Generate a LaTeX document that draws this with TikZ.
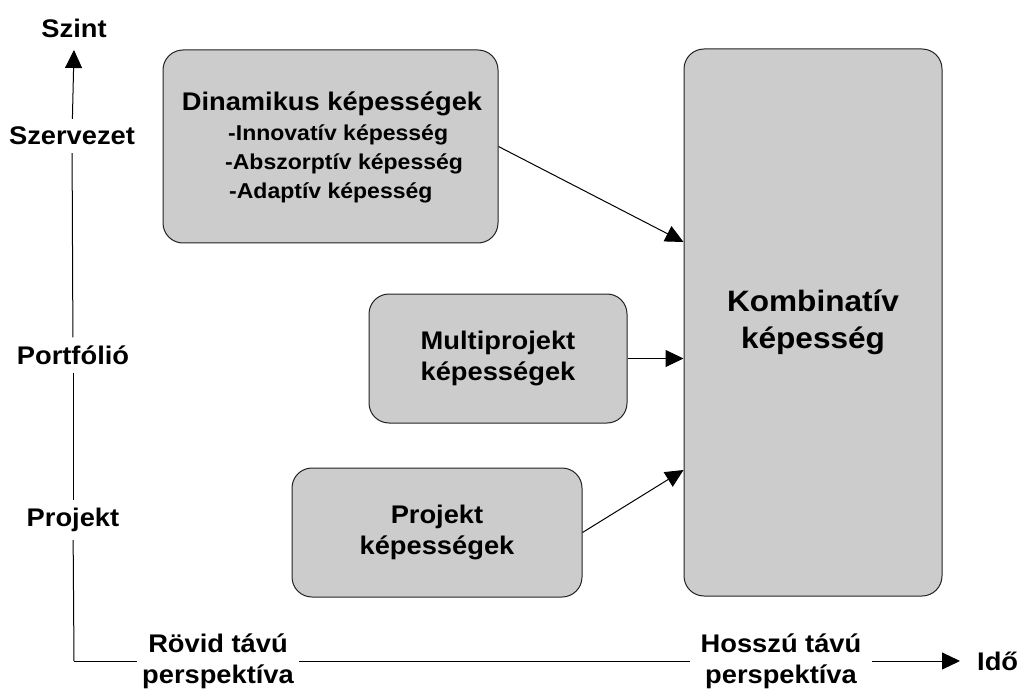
\documentclass[tikz,border=0pt]{standalone}
\usepackage{fontspec}
\setmainfont{Liberation Sans}[FakeStretch=1.07]
\usetikzlibrary{arrows.meta}

\newcommand\lblfont{\fontsize{25.5}{31}\selectfont\bfseries}
\newcommand\itemfont{\fontsize{21.5}{26}\selectfont\bfseries}
\newcommand\bigfont{\fontsize{29.5}{37}\selectfont\bfseries}

\definecolor{boxgray}{HTML}{CCCCCC}
\definecolor{edgegray}{HTML}{222222}

\tikzset{
  capbox/.style={draw=edgegray, line width=1pt, fill=boxgray, rounded corners=20pt,
                 align=center, inner sep=0pt, font=\lblfont},
  axislabel/.style={font=\lblfont, inner xsep=5pt, inner ysep=8pt, align=center},
  axisline/.style={line width=1pt, draw=black},
  tip/.style={-{Triangle[length=18pt, width=17pt]}},
  feed/.style={line width=1pt, draw=black, -{Triangle[length=18pt, width=17pt]}},
}

\begin{document}
\begin{tikzpicture}[x=1pt, y=-1pt]
  \useasboundingbox (0,0) rectangle (1020,695);

  % capability boxes
  \node[capbox, minimum width=335pt, minimum height=193pt] (dyn) at (330.5,146.5) {};
  \node[font=\lblfont, anchor=base] (dyntitle) at (332,111) {Dinamikus képességek};
  \node[font=\itemfont, anchor=base west, inner sep=0pt] (inn) at (228,141) {-Innovatív képesség};
  \node[font=\itemfont, anchor=base west, inner sep=0pt] (absz) at (225,170) {-Abszorptív képesség};
  \node[font=\itemfont, anchor=base west, inner sep=0pt] (adap) at (229,199) {-Adaptív képesség};

  \node[capbox, minimum width=258pt, minimum height=129pt] (multi) at (498,358.5)
       {Multiprojekt\\képességek};
  \node[capbox, minimum width=290pt, minimum height=129pt] (proj) at (437,532.5)
       {Projekt\\képességek};
  \node[capbox, font=\bigfont, minimum width=258pt, minimum height=547pt] (komb) at (813,322.5)
       {Kombinatív\\képesség};

  % feeds into the combined capability
  \draw[feed] (dyn.east) -- (komb.west |- 0,242);
  \draw[feed] (multi.east) -- (komb.west |- multi.east);
  \draw[feed] (proj.east) -- (komb.west |- 0,470);

  % level axis
  \coordinate (origin) at (74,661);
  \coordinate (ytip) at (74,50);
  \node[font=\lblfont] (szint) at (74,28) {Szint};
  \node[axislabel] (lszerv) at (72,136) {Szervezet};
  \node[axislabel] (lport) at (73,355) {Portfólió};
  \node[axislabel] (lproj) at (73,520) {Projekt};
  \draw[axisline] (origin) -- (lproj);
  \draw[axisline] (lproj) -- (lport);
  \draw[axisline] (lport) -- (lszerv);
  \draw[axisline, tip] (lszerv) -- (ytip);

  % time axis
  \coordinate (xtip) at (960,661);
  \node[axislabel, inner xsep=5pt] (rovid) at (218,661) {Rövid távú\\perspektíva};
  \node[axislabel, inner xsep=10pt] (hosszu) at (781,661) {Hosszú távú\\perspektíva};
  \node[font=\lblfont, anchor=west, inner sep=0pt] (ido) at (977,661) {Idő};
  \draw[axisline] (origin) -- (rovid);
  \draw[axisline] (rovid) -- (hosszu);
  \draw[axisline, tip] (hosszu) -- (xtip);
\end{tikzpicture}
\end{document}
